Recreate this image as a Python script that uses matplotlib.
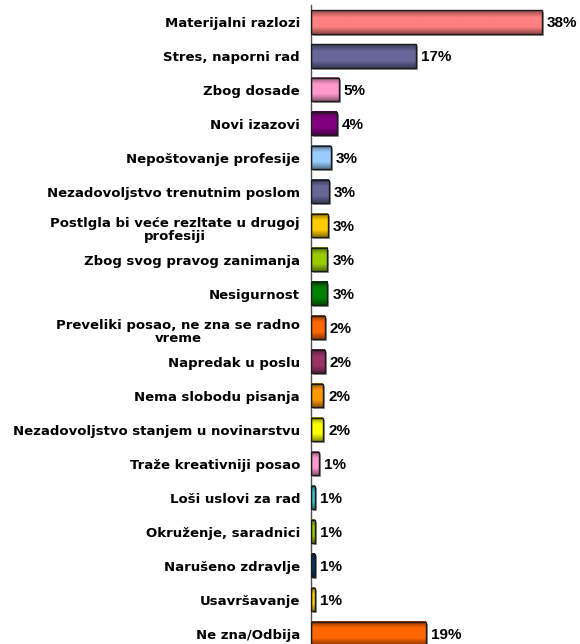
import numpy as np
import matplotlib
matplotlib.use("Agg")
import matplotlib.pyplot as plt
from matplotlib.colors import to_rgb
from matplotlib.transforms import ScaledTranslation

plt.rcParams['font.family'] = ['Liberation Sans', 'DejaVu Sans']

categories = [
    "Materijalni razlozi",
    "Stres, naporni rad",
    "Zbog dosade",
    "Novi izazovi",
    "Nepoštovanje profesije",
    "Nezadovoljstvo trenutnim poslom",
    "Postlgla bi veće rezltate u drugoj\nprofesiji",
    "Zbog svog pravog zanimanja",
    "Nesigurnost",
    "Preveliki posao, ne zna se radno\nvreme",
    "Napredak u poslu",
    "Nema slobodu pisanja",
    "Nezadovoljstvo stanjem u novinarstvu",
    "Traže kreativniji posao",
    "Loši uslovi za rad",
    "Okruženje, saradnici",
    "Narušeno zdravlje",
    "Usavršavanje",
    "Ne zna/Odbija",
]
values = [37.9, 17.2, 4.6, 4.3, 3.2, 2.9, 2.8, 2.7, 2.7, 2.3, 2.3, 2.0, 2.0,
          1.3, 0.7, 0.7, 0.7, 0.7, 18.9]
labels = ["38%", "17%", "5%", "4%", "3%", "3%", "3%", "3%", "3%", "2%", "2%",
          "2%", "2%", "1%", "1%", "1%", "1%", "1%", "19%"]
colors = ["#FF8080", "#666699", "#FF99CC", "#800080", "#99CCFF", "#666699",
          "#FFCC00", "#99CC00", "#008000", "#FF6600", "#993366", "#FF9900",
          "#FFFF00", "#FF99CC", "#33CCCC", "#99CC00", "#003366", "#FFCC00",
          "#FF6600"]

W, H = 580, 644
fig = plt.figure(figsize=(W / 100, H / 100), dpi=100)
left = 311 / W
top = 5
bottom = 650.5
ax = fig.add_axes([left, (H - bottom) / H, 1 - left, (bottom - top) / H])

n = len(categories)
bh = 0.68
pxx = 1 / 6.1   # one pixel in x data units
pxy = 1 / 34.0  # one pixel in y data units

# vertical shading like the original 3D-look bars
shade = np.concatenate([np.linspace(0.6, 1.0, 5), np.ones(5),
                        np.linspace(1.0, 0.6, 5)])
for i, (v, c) in enumerate(zip(values, colors)):
    rgb = np.array(to_rgb(c))
    grad = np.clip(np.array([[rgb * s] for s in shade]), 0, 1)
    # soft shadow
    ax.barh(i + 2 * pxy, v, left=2 * pxx, height=bh, color='#9a9a9a',
            linewidth=0, zorder=1)
    ax.imshow(grad, extent=[pxx * 0.3, v, i + bh / 2, i - bh / 2],
              aspect='auto', interpolation='bilinear', zorder=2)
    ax.barh(i, v - pxx * 0.3, left=pxx * 0.3, height=bh, facecolor='none',
            edgecolor='#1a1a1a', linewidth=1.0, zorder=3)
    ax.text(v + 0.8, i, labels[i], va='center_baseline', ha='left',
            fontsize=11, fontweight='bold', color='black')

ax.set_ylim(n - 0.5, -0.5)
ax.set_xlim(0, (W - 311) / 6.1)

# category labels, right aligned 11 px left of the axis line
for i, cat in enumerate(categories):
    multi = "\n" in cat
    dy = -4 / 100 if multi else 0
    tr = ax.get_yaxis_transform() + ScaledTranslation(-11 / 100, dy,
                                                      fig.dpi_scale_trans)
    ax.text(0, i, cat, transform=tr, ha='right',
            va='center' if multi else 'center_baseline',
            multialignment='center', linespacing=1.0, fontsize=9.5,
            fontweight='bold', family=['DejaVu Sans'], clip_on=False)

ax.set_yticks([])
ax.set_xticks([])
for s in ['top', 'right', 'bottom']:
    ax.spines[s].set_visible(False)
ax.spines['left'].set_color('#505050')
ax.spines['left'].set_linewidth(1.0)

fig.savefig("out.png", dpi=100)
